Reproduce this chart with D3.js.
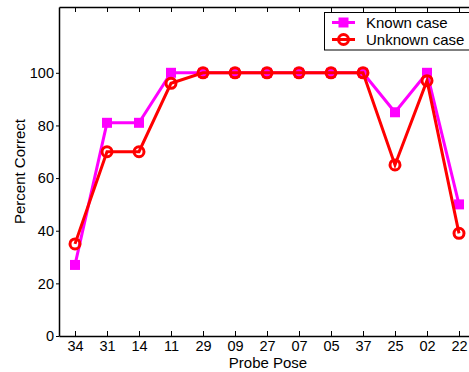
<!DOCTYPE html>
<html>
<head>
<meta charset="utf-8">
<script src="https://cdn.jsdelivr.net/npm/d3@7"></script>
<style>
  body { margin: 0; background: #fff; }
  text { font-family: "Liberation Sans", Arial, sans-serif; }
</style>
</head>
<body>
<div id="chart"></div>
<script>
const poses = ["34", "31", "14", "11", "29", "09", "27", "07", "05", "37", "25", "02", "22"];
const knownCase = [27, 81, 81, 100, 100, 100, 100, 100, 100, 100, 85, 100, 50];
const unknownCase = [35, 70, 70, 96, 100, 100, 100, 100, 100, 100, 65, 97, 39];
const yTicks = [0, 20, 40, 60, 80, 100];

const width = 469, height = 372;
const plotLeft = 59, plotTop = 7, plotBottom = 336;
const step = 32;
const plotRight = plotLeft + step * poses.length;

const svg = d3.select("#chart").append("svg")
    .attr("width", width)
    .attr("height", height);

const x = d3.scalePoint().domain(poses).range([plotLeft, plotRight]).padding(0.5);
const y = d3.scaleLinear().domain([0, 125]).range([plotBottom, plotTop]);

// axes, matlab style: x ticks point inward
const xAxis = svg.append("g")
    .attr("transform", `translate(0,${plotBottom})`)
    .call(d3.axisBottom(x).tickSizeInner(-5).tickSizeOuter(0).tickPadding(4.5));
xAxis.select(".domain").attr("stroke-width", 1.5);
xAxis.selectAll("text").attr("font-size", 14.5).attr("fill", "#000");

const xTop = svg.append("g")
    .attr("transform", `translate(0,${plotTop})`)
    .call(d3.axisTop(x).tickSizeInner(-5).tickSizeOuter(0).tickFormat(""));
xTop.select(".domain").attr("stroke-width", 1.5);

const yAxis = svg.append("g")
    .attr("transform", `translate(${plotLeft},0)`)
    .call(d3.axisLeft(y).tickValues(yTicks).tickSizeInner(3).tickSizeOuter(0).tickPadding(2));
yAxis.select(".domain").attr("stroke-width", 1.5);
yAxis.selectAll("text").attr("font-size", 14.5).attr("fill", "#000");

svg.append("text")
    .attr("transform", `translate(25,${(plotTop + plotBottom) / 2}) rotate(-90)`)
    .attr("text-anchor", "middle")
    .attr("font-size", 15)
    .text("Percent Correct");

svg.append("text")
    .attr("x", 268)
    .attr("y", 367.5)
    .attr("text-anchor", "middle")
    .attr("font-size", 15)
    .text("Probe Pose");

const line = d3.line()
    .x((d, i) => x(poses[i]))
    .y(d => y(d));

// known case (magenta squares)
svg.append("path")
    .datum(knownCase)
    .attr("d", line)
    .attr("fill", "none")
    .attr("stroke", "#ff00ff")
    .attr("stroke-width", 3);
svg.append("g").selectAll("rect")
    .data(knownCase)
    .join("rect")
    .attr("x", (d, i) => x(poses[i]) - 5)
    .attr("y", d => y(d) - 5)
    .attr("width", 10)
    .attr("height", 10)
    .attr("fill", "#ff00ff");

// unknown case (red circles)
svg.append("path")
    .datum(unknownCase)
    .attr("d", line)
    .attr("fill", "none")
    .attr("stroke", "#ff0000")
    .attr("stroke-width", 3);
svg.append("g").selectAll("circle")
    .data(unknownCase)
    .join("circle")
    .attr("cx", (d, i) => x(poses[i]))
    .attr("cy", d => y(d))
    .attr("r", 5)
    .attr("fill", "none")
    .attr("stroke", "#ff0000")
    .attr("stroke-width", 3);

// legend
const legend = svg.append("g");
legend.append("rect")
    .attr("x", 324.5).attr("y", 12.5)
    .attr("width", 160).attr("height", 37.5)
    .attr("fill", "#fff")
    .attr("stroke", "#000")
    .attr("stroke-width", 1);
const items = [
    {label: "Known case", color: "#ff00ff", shape: "square", yy: 22.5},
    {label: "Unknown case", color: "#ff0000", shape: "circle", yy: 39.5}
];
items.forEach(it => {
    legend.append("line")
        .attr("x1", 332).attr("x2", 355)
        .attr("y1", it.yy).attr("y2", it.yy)
        .attr("stroke", it.color).attr("stroke-width", 3);
    if (it.shape === "square") {
        legend.append("rect")
            .attr("x", 338.5).attr("y", it.yy - 5)
            .attr("width", 10).attr("height", 10)
            .attr("fill", it.color);
    } else {
        legend.append("circle")
            .attr("cx", 343.5).attr("cy", it.yy).attr("r", 5)
            .attr("fill", "none")
            .attr("stroke", it.color).attr("stroke-width", 3);
    }
    legend.append("text")
        .attr("x", 366).attr("y", it.yy + 5.2)
        .attr("font-size", 15)
        .text(it.label);
});
</script>
</body>
</html>
